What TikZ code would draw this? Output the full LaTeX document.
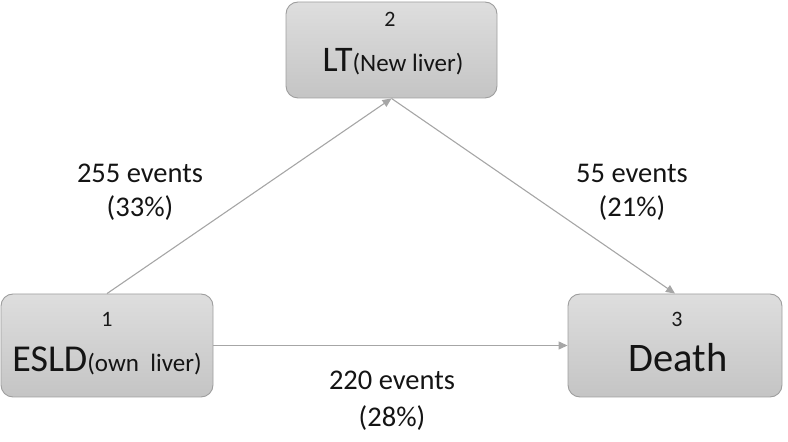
\documentclass[tikz,border=0pt]{standalone}
\usepackage{fontspec}
\setmainfont{Carlito}
\usetikzlibrary{arrows.meta}
\tikzset{
  statebox/.style={draw=black!38, line width=0.9pt, rounded corners=12pt,
    top color=black!13, bottom color=black!23, inner sep=0pt},
  conn/.style={draw=black!35, line width=1.1pt, -{Triangle[length=9pt,width=8pt]}},
  numtxt/.style={anchor=base, inner sep=0pt, font=\fontsize{22}{26}\selectfont, text=black!90},
  lbltxt/.style={anchor=base, inner sep=0pt, font=\fontsize{28.5}{33}\selectfont, text=black!92},
  big/.style={anchor=base, inner sep=0pt, text=black!92}
}
\begin{document}
\begin{tikzpicture}[x=1pt,y=1pt]
\useasboundingbox (0,0) rectangle (788,442);
% boxes
\node[statebox, minimum width=211pt, minimum height=96pt] (lt) at (391.5,392) {};
\node[statebox, minimum width=212pt, minimum height=103pt] (esld) at (107,96.5) {};
\node[statebox, minimum width=214pt, minimum height=103pt] (death) at (675,96.5) {};
% texts in boxes
\node[numtxt] (n2) at (390,415) {2};
\node[big] (t2) at (393,370) {\fontsize{36}{40}\selectfont LT\fontsize{25}{28}\selectfont(New liver)};
\node[numtxt] (n1) at (107,115) {1};
\node[big] (t1) at (107,70) {\fontsize{38}{44}\selectfont ESLD\fontsize{25}{28}\selectfont(own\ \ liver)};
\node[numtxt] (n3) at (677,115) {3};
\node[big] (t3) at (678,70) {\fontsize{40.5}{46}\selectfont Death};
% connectors
\draw[conn] (esld.north) -- (lt.south);
\draw[conn] (lt.south) -- (death.north);
\draw[conn] (esld.east) -- (death.west);
% labels
\node[lbltxt] (l1a) at (140,259) {255 events};
\node[lbltxt] (l1b) at (140,225) {(33\%)};
\node[lbltxt] (l2a) at (632,259) {55 events};
\node[lbltxt] (l2b) at (632,225) {(21\%)};
\node[lbltxt] (l3a) at (392,52) {220 events};
\node[lbltxt] (l3b) at (392,15) {(28\%)};
\end{tikzpicture}
\end{document}
